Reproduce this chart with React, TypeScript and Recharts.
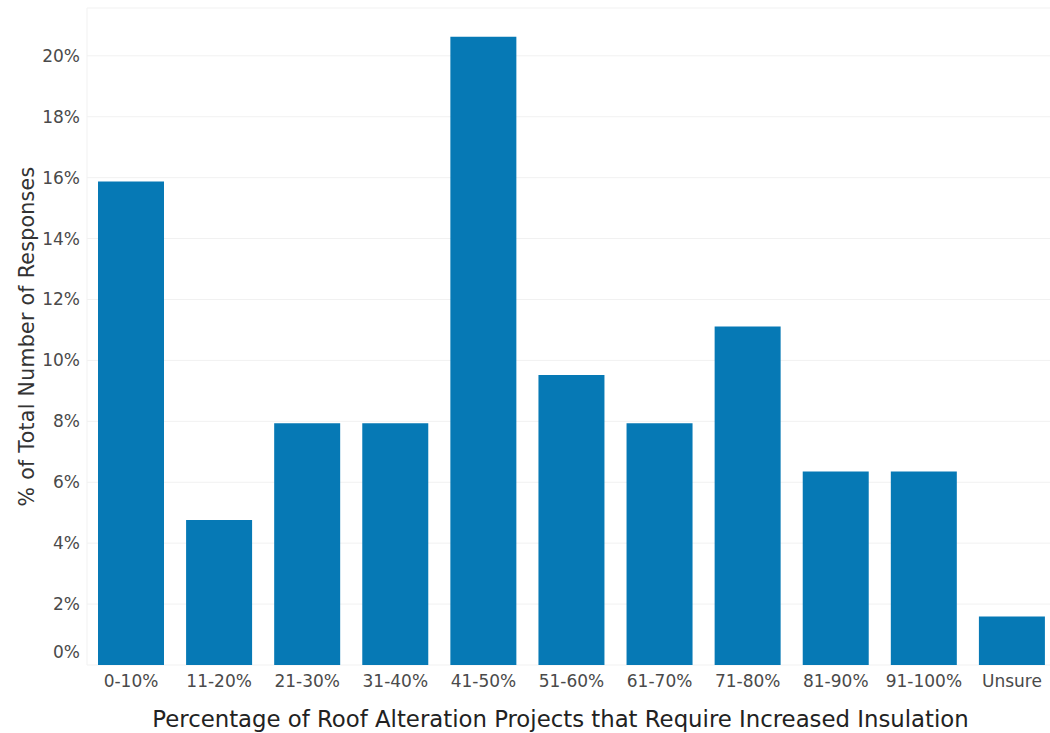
import React from 'react';
import { BarChart, Bar, XAxis, YAxis, CartesianGrid, Label } from 'recharts';

const categories = ['0-10%', '11-20%', '21-30%', '31-40%', '41-50%', '51-60%', '61-70%', '71-80%', '81-90%', '91-100%', 'Unsure'];
const shares = [15.87, 4.76, 7.94, 7.94, 20.63, 9.52, 7.94, 11.11, 6.35, 6.35, 1.59];
const yTicks = [0, 2, 4, 6, 8, 10, 12, 14, 16, 18, 20];

const data = categories.map((c, i) => ({ category: c, share: shares[i] }));

const FONT = '"DejaVu Sans", sans-serif';

const YTick = (props: any) => {
  const { x, y, payload } = props;
  const shift = payload.value === 0 ? -13 : 0;
  return (
    <text x={x} y={y + shift} dy="0.35em" textAnchor="end" fill="#4a4a4a" fontSize={17} fontFamily={FONT}>
      {payload.value}%
    </text>
  );
};

export default function App() {
  return (
    <div style={{ position: 'fixed', top: 0, left: 0, width: 1050, height: 733, overflow: 'hidden', background: '#fff' }}>
      <BarChart
        width={1060}
        height={733}
        data={data}
        margin={{ top: 8, right: 4, bottom: 0, left: 0 }}
        barCategoryGap={11}
      >
        <CartesianGrid vertical={false} stroke="#f1f1f1" />
        <XAxis
          dataKey="category"
          height={68}
          tickLine={false}
          axisLine={false}
          tickSize={0}
          tickMargin={10}
          interval={0}
          tick={{ fill: '#4a4a4a', fontSize: 17, fontFamily: FONT }}
        >
          <Label
            value="Percentage of Roof Alteration Projects that Require Increased Insulation"
            position="insideBottom"
            offset={6}
            dx={-11}
            style={{ fill: '#222', fontSize: 22.8, fontFamily: FONT }}
          />
        </XAxis>
        <YAxis
          width={87}
          domain={[0, 21.57]}
          ticks={yTicks}
          tickLine={false}
          tickSize={0}
          tickMargin={7}
          axisLine={{ stroke: '#f1f1f1' }}
          tick={<YTick />}
        >
          <Label
            value="% of Total Number of Responses"
            angle={-90}
            position="insideLeft"
            offset={27}
            style={{ fill: '#333', fontSize: 20.5, letterSpacing: 0.3, fontFamily: FONT, textAnchor: 'middle' }}
          />
        </YAxis>
        <Bar dataKey="share" fill="#0679B5" isAnimationActive={false} />
      </BarChart>
    </div>
  );
}
